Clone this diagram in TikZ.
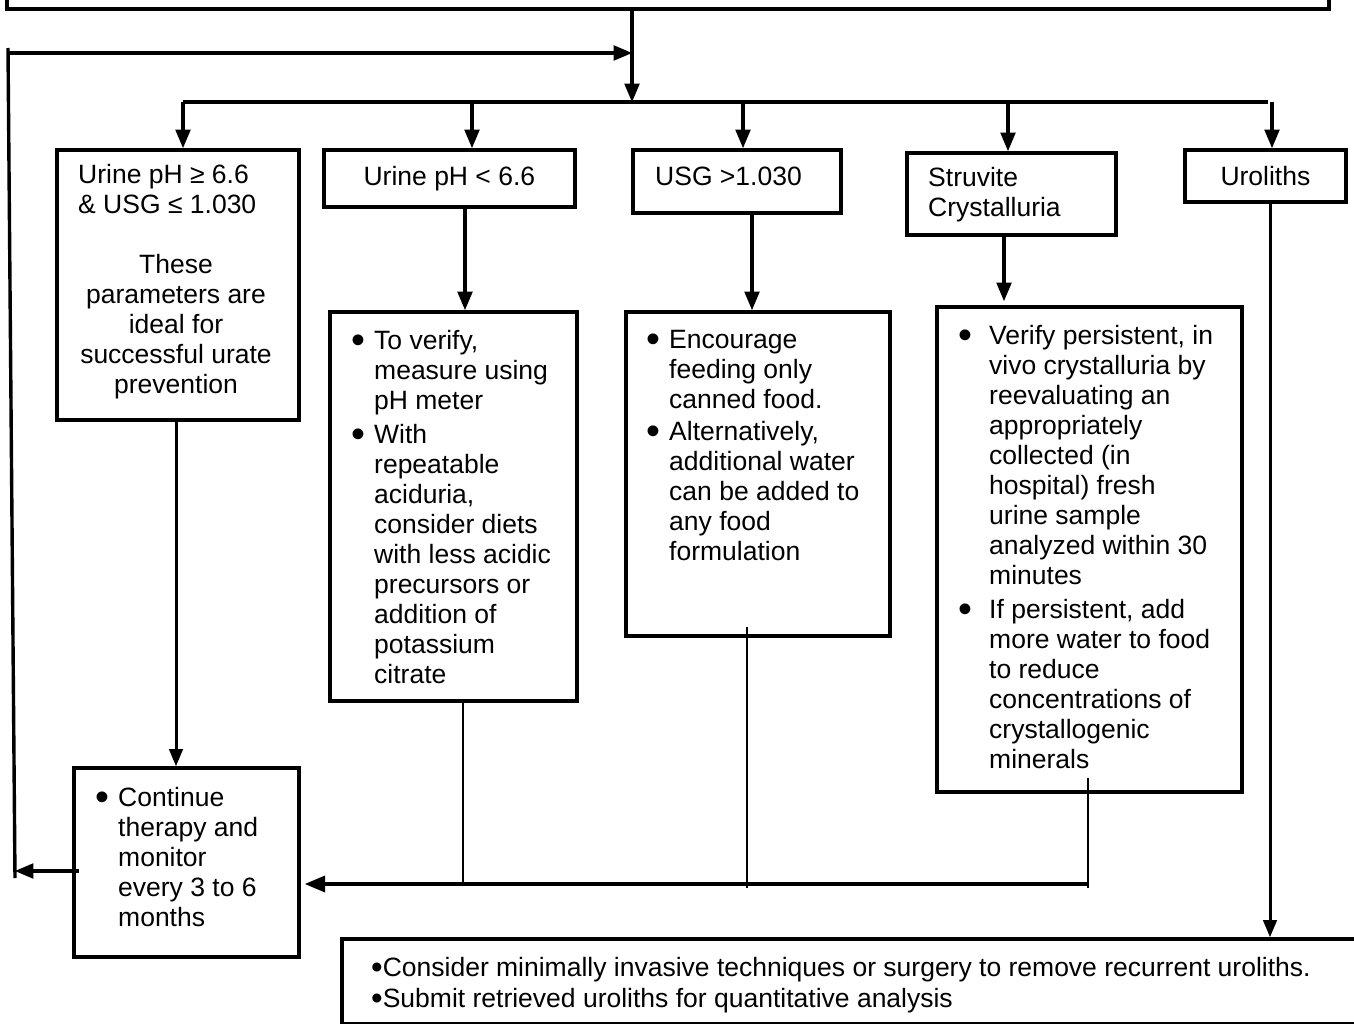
\documentclass[tikz,border=0pt]{standalone}
\usepackage{fontspec}
\setmainfont{Liberation Sans}
\usetikzlibrary{arrows}
\newcommand{\bdot}{\raisebox{-4.5pt}{\scalebox{1.5}{\textbullet}}}
\newcommand{\sdot}{\raisebox{-2pt}{\scalebox{1.25}{\textbullet}}}
\newcommand{\itm}{\makebox[23pt][l]{\bdot}}
\newcommand{\ind}{\hspace*{23pt}}
\newcommand{\itmw}{\makebox[31pt][l]{\bdot}}
\newcommand{\indw}{\hspace*{31pt}}

\begin{document}
\begin{tikzpicture}[x=1pt,y=-1pt,>={triangle 45[scale=1.25]},
  box/.style={draw,line width=3.8pt,inner sep=0pt,anchor=north west},
  txt/.style={inner sep=0pt,anchor=north west,align=left},
  arr/.style={->,line width=3.4pt},
  thin/.style={line width=2.8pt},
  every node/.style={font=\fontsize{26.5}{30}\selectfont}]
\useasboundingbox (0,0) rectangle (1354,1024);
\clip (0,0) rectangle (1354,1024);
% boxes
\node[box,minimum width=1322pt,minimum height=60pt] (top) at (5,-53) {};
\node[box,minimum width=242pt,minimum height=270pt] (ph66) at (55,148) {};
\node[box,minimum width=251pt,minimum height=57pt] (phlow) at (322,148) {Urine pH < 6.6};
\node[box,minimum width=208pt,minimum height=63pt] (usg) at (631,148) {};
\node[box,minimum width=209pt,minimum height=82pt] (struv) at (905,151) {};
\node[box,minimum width=161pt,minimum height=52pt] (uro) at (1183,148) {Uroliths};
\node[box,minimum width=247pt,minimum height=389pt] (acid) at (328,310) {};
\node[box,minimum width=264pt,minimum height=324pt] (water) at (624,310) {};
\node[box,minimum width=305pt,minimum height=485pt] (cryst) at (935,305) {};
\node[box,minimum width=225pt,minimum height=189pt] (cont) at (72,766) {};
\node[box,minimum width=1040pt,minimum height=85pt] (surg) at (340,937) {};
% texts
\node[txt] (ph66a) at (78,164) {Urine pH ≥ 6.6\\\& USG ≤ 1.030};
\node[txt,align=center,anchor=north] (ph66b) at (176,254) {These\\parameters are\\ideal for\\successful urate\\prevention};
\node[txt] (usgt) at (655,167) {USG >1.030};
\node[txt] (struvt) at (928,167) {Struvite\\Crystalluria};
\node[txt] (acidt) at (351,330) {\itm To verify,\\\ind measure using\\\ind pH meter\\[4pt]%
  \itm With\\\ind repeatable\\\ind aciduria,\\\ind consider diets\\\ind with less acidic\\%
  \ind precursors or\\\ind addition of\\\ind potassium\\\ind citrate};
\node[txt] (watert) at (646,330) {\itm Encourage\\\ind feeding only\\\ind canned food.\\[2pt]%
  \itm Alternatively,\\\ind additional water\\\ind can be added to\\\ind any food\\\ind formulation};
\node[txt] (crystt) at (958,325) {\itmw Verify persistent, in\\\indw vivo crystalluria by\\%
  \indw reevaluating an\\\indw appropriately\\\indw collected (in\\%
  \indw hospital) fresh\\\indw urine sample\\\indw analyzed within 30\\%
  \indw minutes\\[4pt]\itmw If persistent, add\\\indw more water to food\\%
  \indw to reduce\\\indw concentrations of\\\indw crystallogenic\\\indw minerals};
\node[txt] (contt) at (95,787) {\itm Continue\\\ind therapy and\\\ind monitor\\\ind every 3 to 6\\\ind months};
\node[txt,font=\fontsize{26.5}{31}\selectfont] (surgt) at (371,957) {\sdot Consider minimally invasive techniques or surgery to remove recurrent uroliths.\\%
  \sdot Submit retrieved uroliths for quantitative analysis};
% connectors
\coordinate (split) at (632,102);
\coordinate (loop) at (8,53);
\coordinate (back) at (15,871);
\coordinate (col) at (1088,884);
\coordinate (colend) at (305,884);
\draw[arr] (top.south -| split) -- (split);
\draw[line width=3.4pt] (15,878) -- (8,48);
\draw[arr] (loop) -- (loop -| split);
\draw[arr,shorten <=-7pt] (cont.west |- back) -- (back);
\draw[line width=3.4pt] (183,102) -- (1268,102);
\foreach \x/\n in {183/ph66,472/phlow,743/usg,1008/struv,1272/uro}
  \draw[arr] (\x,102) -- (\x,0 |- \n.north);
\draw[arr] (465,0 |- phlow.south) -- (465,0 |- acid.north);
\draw[arr] (752,0 |- usg.south) -- (752,0 |- water.north);
\draw[arr,shorten >=4pt] (1004,0 |- struv.south) -- (1004,0 |- cryst.north);
\draw[arr,line width=3pt] (1270,0 |- uro.south) -- (1270,0 |- surg.north);
\draw[arr,line width=3pt] (176,0 |- ph66.south) -- (176,0 |- cont.north);
\draw[arr,line width=3.8pt] (col) -- (colend);
\draw[thin] (463,0 |- acid.south) -- (463,884);
\draw[thin] (747,627) -- (747,888);
\draw[thin] (1088,778) -- (1088,888);
\end{tikzpicture}
\end{document}
